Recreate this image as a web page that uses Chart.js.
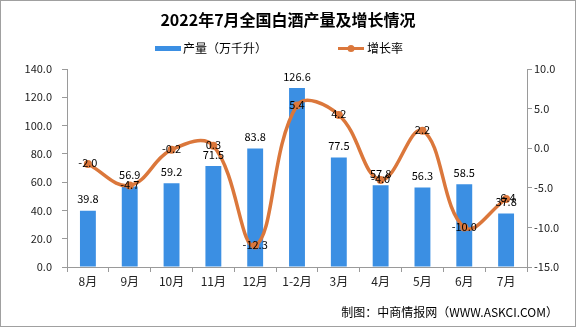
<!DOCTYPE html>
<html>
<head>
<meta charset="utf-8">
<script src="https://cdn.jsdelivr.net/npm/chart.js@4"></script>
<style>
  html, body { margin: 0; padding: 0; background: #fff; }
  #wrap { width: 576px; height: 327px; position: relative; }
</style>
</head>
<body>
<div id="wrap"><canvas id="chart" width="576" height="327"></canvas></div>
<script>
const categories = ["8月", "9月", "10月", "11月", "12月", "1-2月", "3月", "4月", "5月", "6月", "7月"];
const output = [39.8, 56.9, 59.2, 71.5, 83.8, 126.6, 77.5, 57.8, 56.3, 58.5, 37.8];
const growth = [-2.0, -4.7, -0.2, 0.3, -12.3, 5.4, 4.2, -4.0, 2.2, -10.0, -6.4];

const FONT = "'Noto Sans CJK SC', 'Noto Sans', sans-serif";
const BLUE = "#3b8fe3";
const ORANGE = "#db773b";
const AXIS = "#9a9a9a";

Chart.defaults.font.family = FONT;
Chart.defaults.font.size = 11;
Chart.defaults.color = "#222";

// titulo, leyenda, etiquetas y pie dibujados a mano
const decorPlugin = {
  id: "decor",
  afterDatasetsDraw(chart) {
    const ctx = chart.ctx;
    ctx.save();
    ctx.fillStyle = "#000";
    ctx.font = "11px " + FONT;
    ctx.textAlign = "center";

    // etiquetas de barras
    ctx.textBaseline = "bottom";
    chart.getDatasetMeta(0).data.forEach((bar, i) => {
      ctx.fillText(output[i].toFixed(1), bar.x, bar.y - 6);
    });

    // etiquetas de la linea
    ctx.textBaseline = "middle";
    chart.getDatasetMeta(1).data.forEach((pt, i) => {
      ctx.fillText(growth[i].toFixed(1), pt.x, pt.y - 1);
    });
    ctx.restore();
  },
  afterDraw(chart) {
    const ctx = chart.ctx;
    ctx.save();

    // titulo
    ctx.fillStyle = "#000";
    ctx.font = "bold 16px " + FONT;
    ctx.textAlign = "center";
    ctx.textBaseline = "middle";
    ctx.fillText("2022年7月全国白酒产量及增长情况", 288, 20);

    // leyenda
    ctx.font = "12px " + FONT;
    ctx.textAlign = "left";
    ctx.fillStyle = BLUE;
    ctx.fillRect(155, 46, 26, 5);
    ctx.fillStyle = "#000";
    ctx.fillText("产量（万千升）", 183, 48);

    ctx.strokeStyle = ORANGE;
    ctx.lineWidth = 3;
    ctx.beginPath();
    ctx.moveTo(338, 48.5);
    ctx.lineTo(364, 48.5);
    ctx.stroke();
    ctx.fillStyle = ORANGE;
    ctx.beginPath();
    ctx.arc(351, 48.5, 3.5, 0, Math.PI * 2);
    ctx.fill();
    ctx.fillStyle = "#000";
    ctx.fillText("增长率", 367, 48);

    // pie
    ctx.textAlign = "right";
    ctx.fillText("制图：中商情报网（WWW.ASKCI.COM）", 558, 312);

    // borde
    ctx.strokeStyle = "#a0a0a0";
    ctx.lineWidth = 1;
    ctx.strokeRect(0.5, 0.5, 575, 326);
    ctx.restore();
  },
};

function crearGrafico() {
  const ctx = document.getElementById("chart").getContext("2d");

  return new Chart(ctx, {
    data: {
      labels: categories,
      datasets: [
        {
          type: "bar",
          label: "产量（万千升）",
          data: output,
          backgroundColor: BLUE,
          barPercentage: 0.38,
          categoryPercentage: 1.0,
          yAxisID: "y",
          order: 1,
        },
        {
          type: "line",
          label: "增长率",
          data: growth,
          borderColor: ORANGE,
          backgroundColor: ORANGE,
          borderWidth: 3.5,
          tension: 0.4,
          pointRadius: 4,
          pointBorderWidth: 0,
          yAxisID: "y1",
          order: 0,
        },
      ],
    },
    options: {
      responsive: false,
      animation: false,
      layout: {
        padding: { top: 69, left: 0, right: 0, bottom: 0 },
      },
      plugins: {
        legend: { display: false },
        title: { display: false },
        tooltip: { enabled: false },
      },
      scales: {
        x: {
          offset: true,
          grid: {
            offset: true,
            drawOnChartArea: false,
            tickLength: 5,
            color: AXIS,
          },
          border: { color: AXIS },
          ticks: { padding: 2, font: { size: 12 } },
          afterFit: function (scale) {
            scale.height = 60;
          },
        },
        y: {
          position: "left",
          min: 0,
          max: 140,
          grid: { drawOnChartArea: false, tickLength: 5, color: AXIS },
          border: { color: AXIS },
          ticks: {
            stepSize: 20,
            padding: 10,
            callback: function (value) {
              return value.toFixed(1);
            },
          },
          afterFit: function (scale) {
            scale.width = 67;
          },
        },
        y1: {
          position: "right",
          min: -15,
          max: 10,
          grid: { drawOnChartArea: false, tickLength: 5, color: AXIS },
          border: { color: AXIS },
          ticks: {
            stepSize: 5,
            padding: 2,
            callback: function (value) {
              return value.toFixed(1);
            },
          },
          afterFit: function (scale) {
            scale.width = 49;
          },
        },
      },
    },
    plugins: [decorPlugin],
  });
}

crearGrafico();
</script>
</body>
</html>
